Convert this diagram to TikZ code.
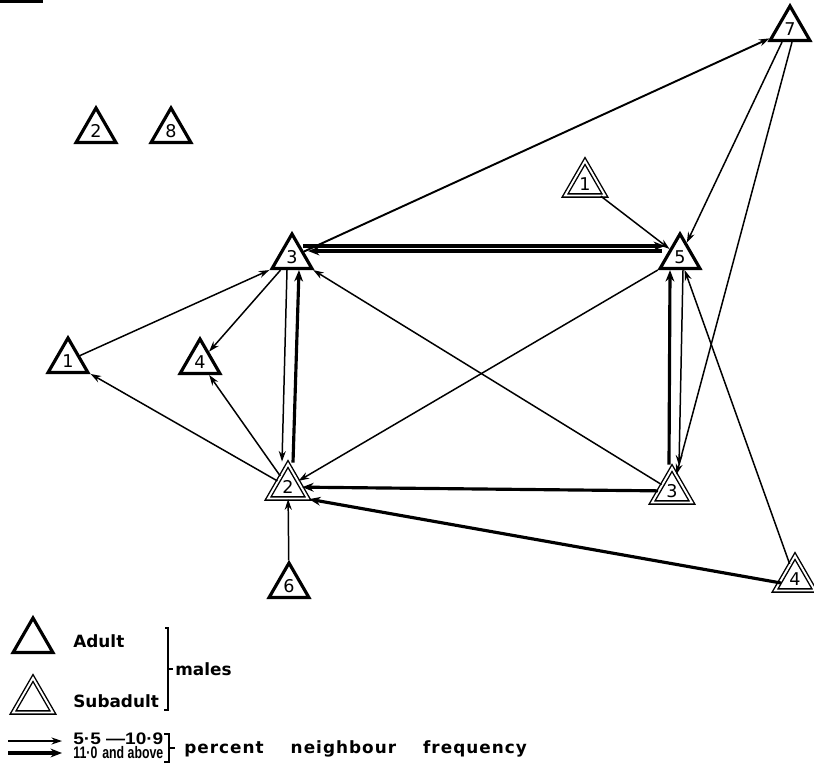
\documentclass[tikz,border=0pt]{standalone}
\usepackage{fontspec}
\usepackage{graphicx}
\setmainfont{DejaVu Sans}
\newfontfamily\spacedfont[LetterSpace=6]{DejaVu Sans}
\newfontfamily\rangefont{Liberation Sans}
\usetikzlibrary{shapes.geometric,arrows.meta}
\begin{document}
\begin{tikzpicture}[x=0.02cm,y=-0.02cm,
  animal/.style={regular polygon, regular polygon sides=3, minimum size=0.92cm,
    inner sep=0pt, draw, line join=miter, font=\fontsize{10}{12}\selectfont},
  adult/.style={animal, line width=1.8pt},
  subadult/.style={animal, line width=0.8pt, double=white, double distance=1.1pt},
  thinarr/.style={line width=0.85pt, -{Stealth[length=6pt,width=4pt]}},
  thickarr/.style={line width=1.8pt, -{Stealth[length=6.5pt,width=5pt]}},
  legtext/.style={anchor=west, inner sep=0pt, font=\fontsize{9.6}{11}\selectfont\bfseries},
  rangetext/.style={anchor=west, inner sep=0pt, font=\rangefont\fontsize{9.5}{10}\selectfont\bfseries},
  bracket/.style={line width=0.8pt}
]
\useasboundingbox (0,0) rectangle (814,773);

% fragment of the caption rule in the corner
\fill (0,0) rectangle (43,3);

% animals
\node[adult]    (t2a) at (96,131)  {2};
\node[adult]    (t8)  at (171,131) {8};
\node[adult]    (t7)  at (790,29)  {7};
\node[adult]    (t3u) at (292,257) {3};
\node[adult]    (t5)  at (680,257) {5};
\node[subadult] (t1s) at (585,184) {1};
\node[adult]    (t1l) at (68,361)  {1};
\node[adult]    (t4l) at (200,362) {4};
\node[subadult] (t2s) at (288,487) {2};
\node[adult]    (t6)  at (289,586) {6};
\node[subadult] (t3s) at (672,491) {3};
\node[subadult] (t4s) at (795,579) {4};

% neighbour links
\draw[thinarr] (t1l) -- (t3u.corner 2);
\draw[thinarr] (t3u) -- (t4l);
\draw[thinarr, line width=1.1pt] (t3u) -- (t7);
\draw[thickarr] ([shift={(11,-11)}]t3u.center) -- ([shift={(-15,-11)}]t5.center);
\draw[thickarr] ([shift={(-18,-6)}]t5.center) -- ([shift={(16,-6)}]t3u.center);
\draw[thinarr] ([shift={(-5,0)}]t3u.side 2) -- ([shift={(-6,-1)}]t2s.corner 1);
\draw[thickarr] ([shift={(5,0)}]t2s.corner 1) -- ([shift={(7,0)}]t3u.side 2);
\draw[thickarr] ([shift={(-3,-2)}]t3s.corner 1) -- ([shift={(-10,0)}]t5.side 2);
\draw[thinarr] ([shift={(3,0)}]t5.side 2) -- ([shift={(7,-1)}]t3s.corner 1);
\draw[thinarr] ([shift={(-8,0)}]t7.side 2) -- (t5);
\draw[thinarr] ([shift={(2,0)}]t7.side 2) -- (t3s);
\draw[thinarr] (t1s) -- (t5);
\draw[thinarr] (t4s) -- (t5);
\draw[thickarr] ([shift={(-14,4)}]t4s.center) -- (t2s.corner 3);
\draw[thickarr] (t3s) -- (t2s);
\draw[thinarr] (t3s) -- (t3u);
\draw[thinarr] (t5) -- (t2s);
\draw[thinarr] (t2s) -- (t1l);
\draw[thinarr] (t2s) -- (t4l);
\draw[thinarr] (t6) -- (t2s);

% legend: symbols
\node[adult]    (ladult) at (33,641) {};
\node[subadult] (lsub)   at (33,701) {};
\node[legtext] (tadult) at (73,641) {Adult};
\node[legtext] (tsub)   at (73,701) {Subadult};
\draw[bracket] (165,628) -- (168,628) -- (168,710) -- (164,710);
\draw[bracket] (168,669) -- (173,669);
\node[legtext] (tmales) at (175,669) {males};

% legend: link classes
\coordinate (la1) at (8,741);
\coordinate (la2) at (62,741);
\coordinate (lb1) at (8,753);
\coordinate (lb2) at (62,753);
\draw[thinarr] (la1) -- (la2);
\draw[thickarr] (lb1) -- (lb2);
\node[rangetext] (tlow)  at (73,739) {\resizebox{1.8cm}{\height}{5·5 —10·9}};
\node[rangetext] (thigh) at (73,753) {\resizebox{1.8cm}{\height}{11·0\hspace{0.4em}and above}};
\draw[bracket] (164,734) -- (169,734) -- (169,762) -- (164,762);
\draw[bracket] (169,748) -- (175,748);
\node[legtext] (tfreq) at (184,749)
  {\spacedfont percent\hspace{1.6em}neighbour\hspace{1.6em}frequency};
\end{tikzpicture}
\end{document}
